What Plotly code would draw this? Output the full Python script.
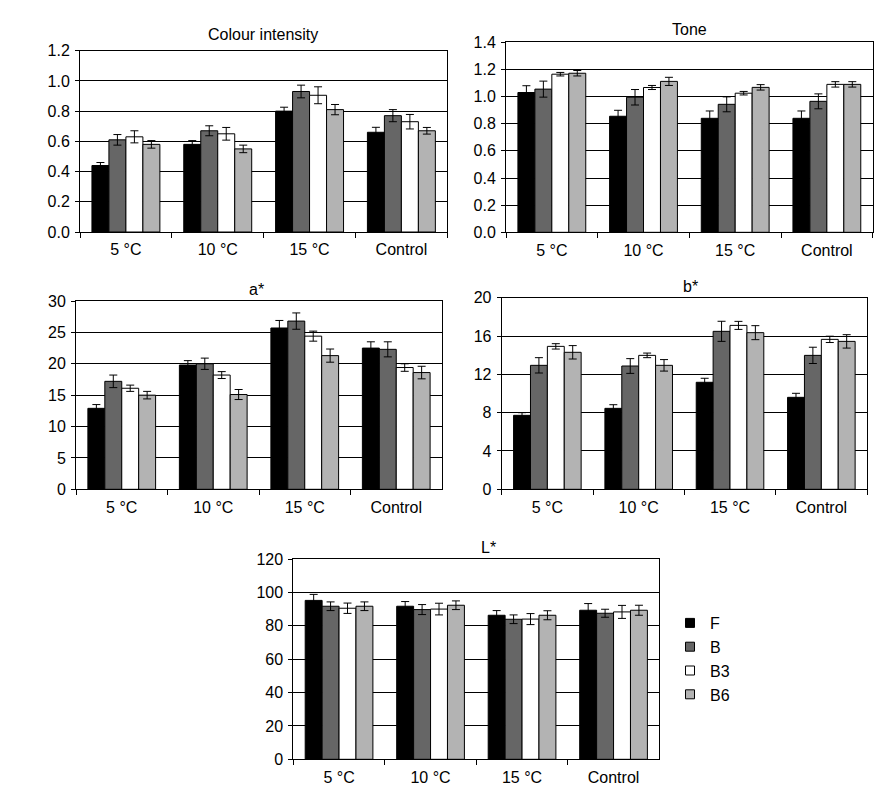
import plotly.graph_objects as go

# page body has an 8px margin; figure coordinates = page coordinates - 8
OFF = 8
W, H = 890 - OFF, 793 - OFF

categories = ["5 °C", "10 °C", "15 °C", "Control"]
series_names = ["F", "B", "B3", "B6"]
series_colors = ["#000000", "#666666", "#ffffff", "#b3b3b3"]

# Colour intensity
ci_vals = [[0.44, 0.58, 0.80, 0.66],
           [0.61, 0.67, 0.93, 0.77],
           [0.63, 0.65, 0.905, 0.73],
           [0.58, 0.55, 0.81, 0.67]]
ci_err = [[0.02, 0.025, 0.026, 0.033],
          [0.035, 0.033, 0.042, 0.04],
          [0.04, 0.042, 0.056, 0.048],
          [0.025, 0.025, 0.034, 0.022]]

# Tone
tone_vals = [[1.03, 0.855, 0.84, 0.84],
             [1.055, 0.995, 0.943, 0.965],
             [1.165, 1.067, 1.025, 1.09],
             [1.172, 1.112, 1.068, 1.09]]
tone_err = [[0.05, 0.044, 0.054, 0.054],
            [0.059, 0.057, 0.055, 0.055],
            [0.013, 0.015, 0.013, 0.02],
            [0.02, 0.03, 0.02, 0.02]]

# a*
a_vals = [[12.9, 19.8, 25.7, 22.5],
          [17.2, 20.0, 26.8, 22.3],
          [16.1, 18.2, 24.4, 19.4],
          [15.0, 15.1, 21.3, 18.6]]
a_err = [[0.6, 0.7, 1.2, 1.0],
         [1.0, 0.9, 1.3, 1.2],
         [0.5, 0.55, 0.8, 0.6],
         [0.6, 0.8, 1.05, 1.0]]

# b*
b_vals = [[7.72, 8.45, 11.17, 9.6],
          [12.94, 12.87, 16.49, 13.98],
          [14.92, 13.98, 17.11, 15.65],
          [14.3, 12.94, 16.35, 15.44]]
b_err = [[0.28, 0.38, 0.42, 0.42],
         [0.8, 0.77, 1.05, 0.85],
         [0.28, 0.24, 0.42, 0.33],
         [0.7, 0.6, 0.73, 0.7]]

# L*
l_vals = [[95.2, 91.7, 86.3, 89.3],
          [91.7, 89.7, 83.9, 87.5],
          [90.5, 90.0, 84.0, 88.3],
          [91.7, 92.3, 86.3, 89.3]]
l_err = [[3.6, 2.8, 2.8, 4.0],
         [2.6, 3.0, 2.6, 2.4],
         [3.1, 3.5, 3.3, 3.9],
         [2.6, 2.6, 2.7, 3.0]]

panels = [
    # title, vals, errs, ymax, dtick, fmt, page-px box (x0, x1, ytop, ybottom), title pos
    ("Colour intensity", ci_vals, ci_err, 1.2, 0.2, ".1f", (80, 447.3, 50.7, 232.0), (263, 35)),
    ("Tone", tone_vals, tone_err, 1.4, 0.2, ".1f", (506, 872.7, 42.3, 232.3), (689, 29.5)),
    ("a*", a_vals, a_err, 30, 5, "d", (76, 442, 301, 489.3), (256.7, 290)),
    ("b*", b_vals, b_err, 20, 4, "d", (501.7, 867, 297.7, 489.3), (690, 287)),
    ("L*", l_vals, l_err, 120, 20, "d", (293.3, 659.3, 559, 759.3), (488, 547)),
]


def fx(px):
    return (px - OFF) / W


def fy(py):
    return 1 - (py - OFF) / H


FONT = "Liberation Sans, Arial, sans-serif"
FS = 16
fig = go.Figure()
layout = dict(
    width=W, height=H,
    margin=dict(l=0, r=0, t=0, b=0, autoexpand=False),
    paper_bgcolor="white", plot_bgcolor="white",
    barmode="group", bargap=0.26, bargroupgap=0,
    font=dict(family=FONT, size=FS, color="black"),
    showlegend=True,
    legend=dict(x=fx(670), y=fy(606), xanchor="left", yanchor="top",
                font=dict(size=16), tracegroupgap=4, itemwidth=30,
                bgcolor="rgba(0,0,0,0)"),
)
annotations = []

for i, (title, vals, errs, ymax, dtick, fmt, box, tpos) in enumerate(panels):
    n = "" if i == 0 else str(i + 1)
    xa, ya = "x" + n, "y" + n
    x0, x1, yt, yb = box
    for s in range(4):
        fig.add_trace(go.Bar(
            x=categories, y=vals[s], name=series_names[s],
            xaxis=xa, yaxis=ya,
            marker=dict(color=series_colors[s], line=dict(color="black", width=1)),
            error_y=dict(type="data", array=errs[s], visible=True,
                         color="black", thickness=1, width=4),
            showlegend=False,
        ))
    layout["xaxis" + n] = dict(
        domain=[fx(x0), fx(x1)], anchor=ya, automargin=False,
        showline=True, linecolor="black", linewidth=1, mirror=True,
        ticks="outside", tickson="boundaries", ticklen=5, tickcolor="black",
        ticklabelstandoff=3,
        showgrid=False, tickfont=dict(size=FS), fixedrange=True,
    )
    layout["yaxis" + n] = dict(
        domain=[fy(yb), fy(yt)], anchor=xa, automargin=False,
        range=[0, ymax], dtick=dtick, tick0=0, tickformat=fmt,
        showline=True, linecolor="black", linewidth=1, mirror=True,
        ticks="outside", ticklen=4, tickcolor="black",
        ticklabelstandoff=2,
        showgrid=True, gridcolor="black", gridwidth=1, zeroline=False,
        tickfont=dict(size=FS), fixedrange=True,
    )
    annotations.append(dict(
        text=title, x=fx(tpos[0]), y=fy(tpos[1]), xref="paper", yref="paper",
        xanchor="center", yanchor="middle", showarrow=False,
        font=dict(size=FS, family=FONT, color="black"),
    ))

# legend entries (square swatches matching the bar fills)
for s in range(4):
    fig.add_trace(go.Scatter(
        x=[None], y=[None], mode="markers", name=series_names[s],
        xaxis="x5", yaxis="y5",
        marker=dict(symbol="square", size=9, color=series_colors[s],
                    line=dict(color="black", width=1)),
        showlegend=True,
    ))

layout["annotations"] = annotations
fig.update_layout(**layout)
fig.write_html("out.html")
